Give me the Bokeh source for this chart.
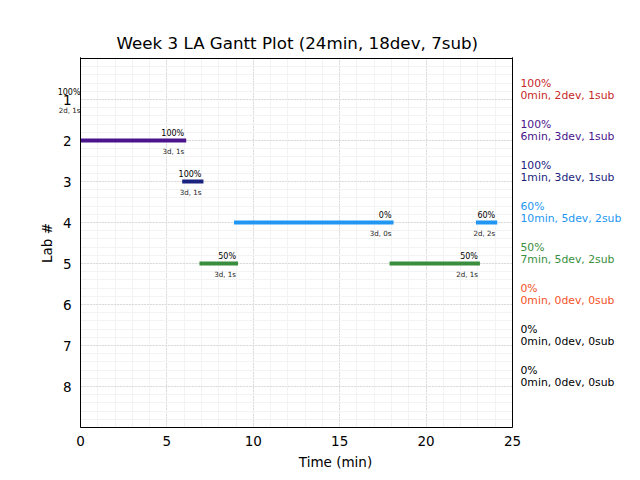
import numpy as np
from bokeh.plotting import figure
from bokeh.models import (ColumnDataSource, Range1d, FixedTicker, BoxAnnotation)
from bokeh.core.properties import value
from bokeh.embed import file_html
from bokeh.resources import INLINE

# ---- data ----
labs = [1, 2, 3, 4, 5, 6, 7, 8]
lab_colors = ["#C62828", "#4A148C", "#1A237E", "#2196F3", "#388E3C",
              "#F4511E", "#000000", "#000000"]
lab_pct = ["100%", "100%", "100%", "60%", "50%", "0%", "0%", "0%"]
lab_info = ["0min, 2dev, 1sub", "6min, 3dev, 1sub", "1min, 3dev, 1sub",
            "10min, 5dev, 2sub", "7min, 5dev, 2sub", "0min, 0dev, 0sub",
            "0min, 0dev, 0sub", "0min, 0dev, 0sub"]

seg_lab = [1, 2, 3, 4, 4, 5, 5]
seg_start = [0, 0, 6, 9, 23, 7, 18]
seg_end = [0, 6, 7, 18, 24, 9, 23]
seg_pct = ["100%", "100%", "100%", "0%", "60%", "50%", "50%"]
seg_info = ["2d, 1s", "3d, 1s", "3d, 1s", "3d, 0s", "2d, 2s", "3d, 1s", "2d, 1s"]

x_ticks = [0, 5, 10, 15, 20, 25]
title = "Week 3 LA Gantt Plot (24min, 18dev, 7sub)"

FONT = "DejaVu Sans"
X_MIN, X_MAX = 0, 25
Y_TOP, Y_BOT = 0, 9

# ---- geometry (pixels) ----
W, H = 640, 480
BOX_L, BOX_R, BOX_T, BOX_B = 80, 512, 58, 427
FRAME_L = 30
PX_X = (BOX_R - BOX_L) / (X_MAX - X_MIN)
PX_Y = (BOX_B - BOX_T) / (Y_BOT - Y_TOP)
x_start = X_MIN - (BOX_L - FRAME_L) / PX_X
x_end = X_MAX + (W - BOX_R) / PX_X
y_top = Y_TOP - 1 / PX_Y  # one spare pixel row so the top border is not clipped

seg_colors = [lab_colors[labs.index(l)] for l in seg_lab]
vis = [i for i in range(len(seg_lab)) if seg_end[i] > seg_start[i]]
bar_src = ColumnDataSource(dict(x0=[seg_start[i] for i in vis],
                                x1=[seg_end[i] for i in vis],
                                y=[seg_lab[i] for i in vis],
                                color=[seg_colors[i] for i in vis]))
seg_src = ColumnDataSource(dict(x1=seg_end, y=seg_lab, pct=seg_pct, info=seg_info))
lab_src = ColumnDataSource(dict(x=[X_MAX] * len(labs), y=labs, color=lab_colors,
                                pct=lab_pct, info=lab_info))

p = figure(width=W, height=H, output_backend="svg", toolbar_location=None,
           x_range=Range1d(x_start, x_end), y_range=Range1d(Y_BOT, y_top),
           min_border_left=FRAME_L, min_border_right=0, min_border_top=BOX_T - 1,
           min_border_bottom=H - BOX_B, title=title)

p.title.text_font = FONT
p.title.text_font_size = "16.7px"
p.title.text_font_style = "normal"
p.title.align = "left"
p.title.offset = 116 - FRAME_L
p.title.text_color = "#000000"

p.outline_line_color = None
p.background_fill_color = "#ffffff"
p.border_fill_color = "#ffffff"

p.xaxis.ticker = FixedTicker(ticks=x_ticks, minor_ticks=list(range(X_MIN, X_MAX + 1)))
p.yaxis.ticker = FixedTicker(ticks=labs, minor_ticks=list(np.round(np.arange(Y_TOP, Y_BOT + 0.01, 0.2), 2)))
p.xaxis.bounds = (X_MIN, X_MAX)
p.yaxis.bounds = (Y_TOP, Y_BOT)
p.yaxis.fixed_location = X_MIN

for ax in (p.xaxis[0], p.yaxis[0]):
    ax.axis_line_color = "#000000"
    ax.axis_line_width = 1
    ax.major_tick_out = 0
    ax.major_tick_in = 0
    ax.minor_tick_out = 0
    ax.minor_tick_in = 0
    ax.major_label_text_font = FONT
    ax.major_label_text_font_size = "13.5px"
    ax.major_label_text_color = "#000000"
    ax.axis_label_text_font = FONT
    ax.axis_label_text_font_size = "13.5px"
    ax.axis_label_text_font_style = "normal"
    ax.axis_label_text_color = "#000000"

p.xaxis.major_label_standoff = 8
p.yaxis.major_label_standoff = 9
p.xaxis.axis_label = "Time (min)"
p.yaxis.axis_label = "Lab #"
p.xaxis.axis_label_standoff = 5
p.yaxis.axis_label_standoff = 5

for g in (p.xgrid[0], p.ygrid[0]):
    g.level = "image"
    g.grid_line_color = "#c4c4c4"
    g.grid_line_dash = "1 2"
    g.grid_line_width = 1
    g.minor_grid_line_color = "#f3f3f3"
    g.minor_grid_line_width = 1

# bars (drawn below the outside masks so square caps do not poke past the box)
p.segment(x0="x0", y0="y", x1="x1", y1="y", source=bar_src, line_color="color",
          line_width=4, line_cap="square", level="underlay")

# white masks outside the plot box; their inner edges draw the box border
BIG = 1000
for kw in (dict(left=-BIG, right=X_MIN, top=-BIG, bottom=BIG),
           dict(left=X_MAX, right=BIG, top=-BIG, bottom=BIG),
           dict(left=X_MIN, right=X_MAX, top=-BIG, bottom=Y_TOP)):
    p.add_layout(BoxAnnotation(level="underlay", fill_color="#ffffff", fill_alpha=1.0,
                               line_color="#000000", line_width=1, line_alpha=1.0,
                               propagate_hover=False, **kw))

p.text(x="x1", y="y", text="pct", source=seg_src, text_align="right",
       text_baseline="bottom", y_offset=-3, text_font=value(FONT),
       text_font_size="8px", text_color="#000000")
p.text(x="x1", y="y", text="info", source=seg_src, text_align="right",
       text_baseline="top", y_offset=6, text_font=value(FONT),
       text_font_size="7.1px", text_color="#222222")

p.text(x="x", y="y", text="pct", source=lab_src, x_offset=8, y_offset=-16,
       text_align="left", text_baseline="alphabetic", text_font=value(FONT),
       text_font_size="10.8px", text_color="color")
p.text(x="x", y="y", text="info", source=lab_src, x_offset=8, y_offset=-4,
       text_align="left", text_baseline="alphabetic", text_font=value(FONT),
       text_font_size="10.8px", text_color="color")

open("out.html", "w").write(file_html(p, INLINE))
